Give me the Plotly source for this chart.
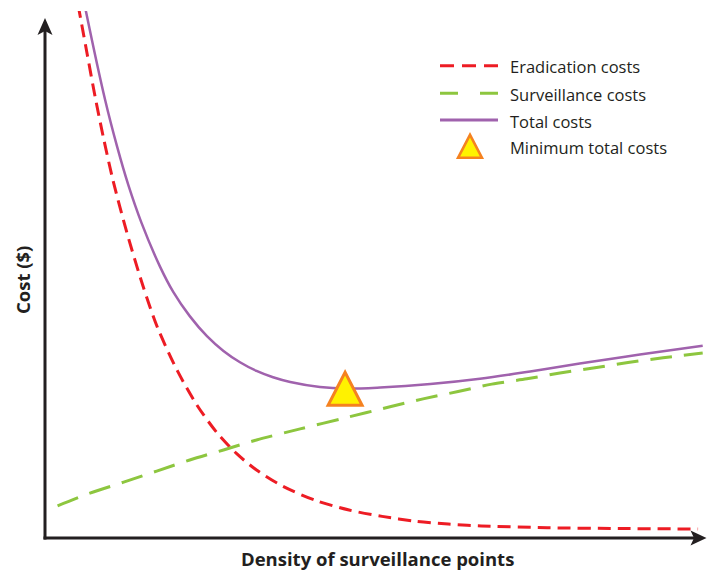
import plotly.graph_objects as go

# ---- data (arbitrary units; x = density of surveillance points, y = cost) ----
erad_x = [5.0, 6.4, 7.6, 8.8, 10.3, 12.4, 14.8, 17.0, 20.0, 23.0, 26.0, 29.0, 32.0, 36.0, 41.0, 46.0, 51.0, 56.0, 61.0, 66.0, 76.0, 87.0, 98.8]
erad_y = [101.2, 91.7, 83.6, 76.2, 67.8, 57.9, 47.9, 40.0, 31.8, 25.2, 20.0, 16.0, 12.9, 9.8, 7.1, 5.3, 4.1, 3.2, 2.65, 2.3, 1.95, 1.8, 1.7]

surv_x = [1.9, 6.8, 11.9, 16.9, 21.9, 27.0, 32.0, 38.6, 45.4, 52.2, 57.2, 62.5, 67.6, 72.9, 77.9, 83.2, 88.2, 93.5, 99.5]
surv_y = [6.1, 8.5, 10.6, 12.7, 14.8, 16.7, 18.6, 20.7, 22.8, 24.9, 26.4, 27.8, 29.2, 30.2, 31.3, 32.3, 33.3, 34.2, 35.1]

total_x = [5.95, 6.2, 9.1, 10.9, 12.6, 14.6, 17.4, 19.4, 21.9, 24.5, 27.0, 29.5, 32.0, 34.5, 37.1, 41.6, 45.6, 50.7, 58.3, 65.8, 73.4, 80.9, 90.0, 99.5]
total_y = [101.5, 99.9, 83.1, 74.3, 67.0, 59.8, 51.5, 46.7, 42.1, 38.3, 35.5, 33.35, 31.7, 30.5, 29.6, 28.65, 28.35, 28.55, 29.2, 30.2, 31.6, 33.1, 34.8, 36.5]

min_x = 45.4
min_y = 28.3

legend_labels = ["Eradication costs", "Surveillance costs", "Total costs", "Minimum total costs"]
x_title = "Density of surveillance points"
y_title = "Cost ($)"

RED = "#ed1c24"
GREEN = "#8dc63f"
PURPLE = "#a062ad"
YELLOW = "#fff200"
ORANGE = "#f58220"
INK = "#231f20"
FONT = "Open Sans"

# layout helpers: pixel position -> paper fraction
L, R, T, B = 45, 1, 11, 34
W, H = 707, 572
PW, PH = W - L - R, H - T - B


def PX(x):
    return (x - L) / PW


def PY(y):
    return (H - B - y) / PH


fig = go.Figure()
fig.add_trace(go.Scatter(x=erad_x, y=erad_y, mode="lines", name=legend_labels[0],
                         line=dict(color=RED, width=3, dash="13px,7px", shape="spline", smoothing=0.8),
                         showlegend=False, hoverinfo="skip"))
fig.add_trace(go.Scatter(x=surv_x, y=surv_y, mode="lines", name=legend_labels[1],
                         line=dict(color=GREEN, width=3, dash="22px,12px", shape="spline", smoothing=0.8),
                         showlegend=False, hoverinfo="skip"))
fig.add_trace(go.Scatter(x=total_x, y=total_y, mode="lines", name=legend_labels[2],
                         line=dict(color=PURPLE, width=2.5, shape="spline", smoothing=1.0),
                         showlegend=False, hoverinfo="skip"))

shapes = []
# axes lines
shapes.append(dict(type="line", xref="paper", yref="paper", x0=PX(43.5), x1=PX(696), y0=PY(538), y1=PY(538),
                   line=dict(color=INK, width=3)))
shapes.append(dict(type="line", xref="paper", yref="paper", x0=PX(45), x1=PX(45), y0=PY(539.5), y1=PY(28),
                   line=dict(color=INK, width=3)))
# arrowheads
shapes.append(dict(type="path", xref="paper", yref="paper", xsizemode="pixel", ysizemode="pixel",
                   xanchor=PX(45), yanchor=PY(18), path="M0,0 L-7.5,-17 L0,-13 L7.5,-17 Z",
                   fillcolor=INK, line=dict(width=0)))
shapes.append(dict(type="path", xref="paper", yref="paper", xsizemode="pixel", ysizemode="pixel",
                   xanchor=PX(706.5), yanchor=PY(538), path="M0,0 L-16,7.5 L-12.5,0 L-16,-7.5 Z",
                   fillcolor=INK, line=dict(width=0)))
# minimum marker (triangle) at the data minimum
shapes.append(dict(type="path", xref="x", yref="y", xsizemode="pixel", ysizemode="pixel",
                   xanchor=min_x, yanchor=min_y, path="M-17,-16.5 L17,-16.5 L0,16.5 Z",
                   fillcolor=YELLOW, line=dict(color=ORANGE, width=3), layer="above"))

# legend (manual)
leg_rows = [65.7, 93.3, 120.0, 146.5]
shapes.append(dict(type="line", xref="paper", yref="paper", x0=PX(440), x1=PX(498), y0=PY(leg_rows[0]), y1=PY(leg_rows[0]),
                   line=dict(color=RED, width=3, dash="14px,8px")))
shapes.append(dict(type="line", xref="paper", yref="paper", x0=PX(440), x1=PX(498), y0=PY(leg_rows[1]), y1=PY(leg_rows[1]),
                   line=dict(color=GREEN, width=3, dash="18px,22px")))
shapes.append(dict(type="line", xref="paper", yref="paper", x0=PX(440), x1=PX(498), y0=PY(leg_rows[2]), y1=PY(leg_rows[2]),
                   line=dict(color=PURPLE, width=3)))
shapes.append(dict(type="path", xref="paper", yref="paper", xsizemode="pixel", ysizemode="pixel",
                   xanchor=PX(470), yanchor=PY(146.3), path="M-12,-11.5 L12,-11.5 L0,11.5 Z",
                   fillcolor=YELLOW, line=dict(color=ORANGE, width=2.5)))

annotations = []
for lab, row in zip(legend_labels, leg_rows):
    annotations.append(dict(xref="paper", yref="paper", x=PX(508), y=PY(row + 1), text=lab, showarrow=False,
                            xanchor="left", yanchor="middle", font=dict(family=FONT, size=16.5, color=INK)))
annotations.append(dict(xref="paper", yref="paper", x=PX(377.5), y=PY(558), text="<b>" + x_title + "</b>",
                        showarrow=False, xanchor="center", yanchor="middle",
                        font=dict(family=FONT, size=18.5, color=INK)))
annotations.append(dict(xref="paper", yref="paper", x=PX(22), y=PY(280), text="<b>" + y_title + "</b>",
                        showarrow=False, xanchor="center", yanchor="middle", textangle=-90,
                        font=dict(family=FONT, size=18.5, color=INK)))

fig.update_layout(
    width=W, height=H,
    margin=dict(l=L, r=R, t=T, b=B),
    paper_bgcolor="white", plot_bgcolor="white",
    xaxis=dict(range=[0, 100], visible=False, fixedrange=True),
    yaxis=dict(range=[0, 100], visible=False, fixedrange=True),
    shapes=shapes, annotations=annotations,
    showlegend=False,
)

fig.write_html("out.html", config={"displayModeBar": False},
               post_script="document.body.style.margin='0';document.body.style.overflow='hidden';")
